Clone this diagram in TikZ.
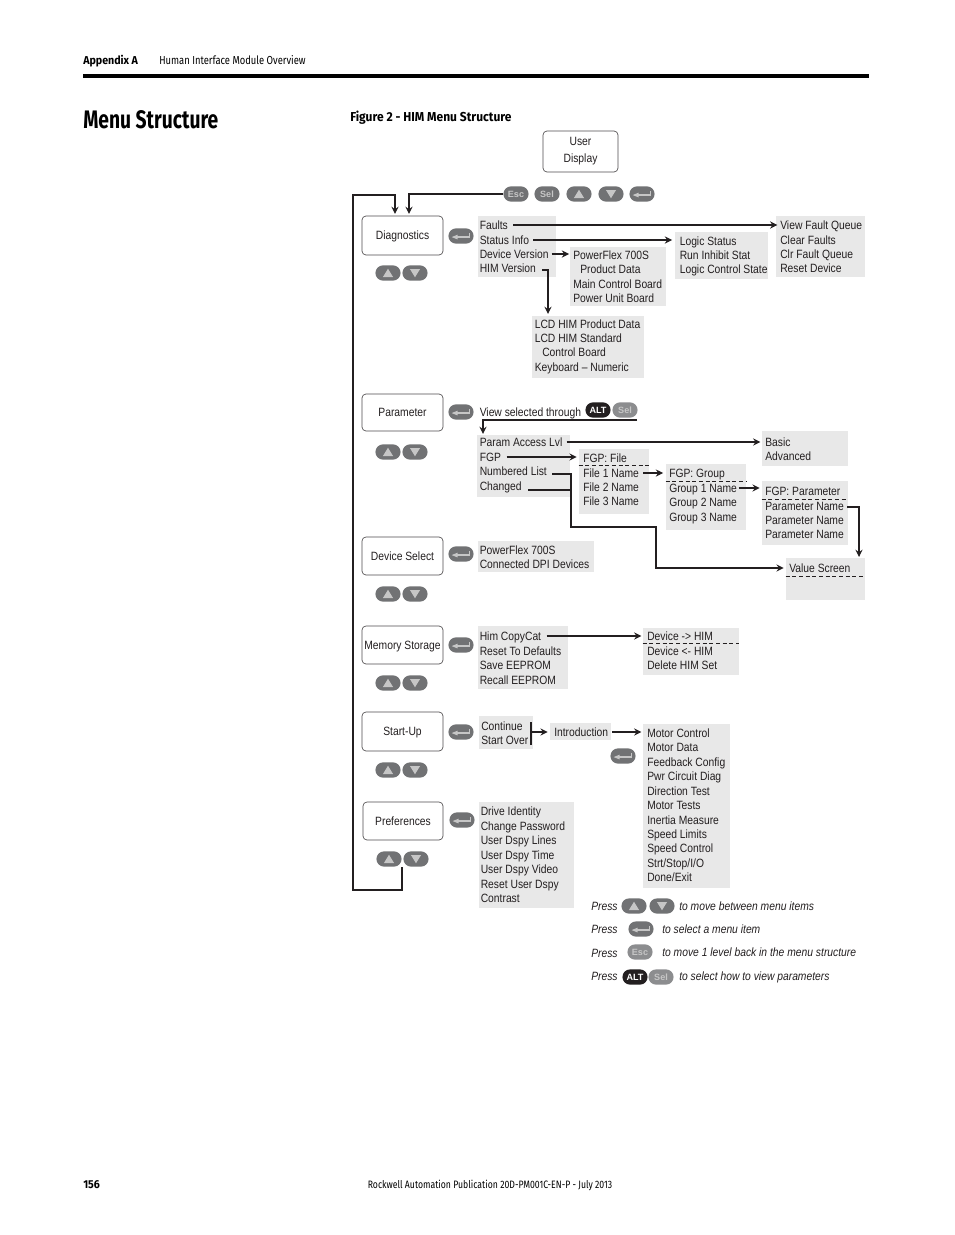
\documentclass[tikz,border=0pt]{standalone}
\usepackage{fontspec}
\setmainfont{Liberation Sans}[FakeStretch=0.86]
\newfontfamily\headf{Fira Sans}[FakeStretch=0.81]
\newfontfamily\headb{Fira Sans}[FakeStretch=0.93]
\newfontfamily\titlef{Fira Sans}[FakeStretch=0.76]
\newfontfamily\keyf{Liberation Sans}
\usetikzlibrary{arrows.meta}
\definecolor{panelgray}{HTML}{E8E8E8}
\definecolor{keygray}{HTML}{717274}
\definecolor{keylight}{HTML}{8C8D8F}
\definecolor{glyph}{HTML}{C6C6C6}
\definecolor{ink}{HTML}{231F20}
\tikzset{
  lab/.style={anchor=west,inner sep=0pt,text height=6.4pt,text depth=0pt,font=\fontsize{9}{11}\selectfont,text=ink},
  ital/.style={lab,font=\fontsize{9}{11}\selectfont\itshape},
  menubox/.style={draw=ink!80,line width=0.5pt,rounded corners=3pt,inner sep=0pt,align=center,font=\fontsize{9}{11}\selectfont,text=ink},
  oneline/.style={menubox,text height=6.4pt,text depth=0pt},
  panel/.style={fill=panelgray,inner sep=0pt,draw=none},
  keypill/.style={rounded corners=5.6pt,inner sep=0pt,minimum width=18.8pt,minimum height=11.4pt,draw=none},
  keytxt/.style={font=\keyf\fontsize{6.8}{7}\selectfont\bfseries},
  conn/.style={draw=ink,line width=0.8pt,-{Stealth[length=5.5pt,width=5.4pt,inset=1.9pt]}},
  heavy/.style={conn,line width=1.2pt},
  loopline/.style={conn,line width=1.5pt},
  plainline/.style={draw=ink,line width=1.2pt},
  dsh/.style={draw=ink,line width=0.6pt,dash pattern=on 3pt off 2pt},
}
\newcommand{\pnl}[5]{%
  \pgfmathsetmacro{\pw}{(#4-#2)*0.75}\pgfmathsetmacro{\ph}{(#5-#3)*0.75}%
  \node[panel,minimum width=\pw pt,minimum height=\ph pt] (#1) at ({(#2+#4)/2},{(#3+#5)/2}) {};}
\newcommand{\mbx}[6]{%
  \pgfmathsetmacro{\pw}{(#4-#2)*0.75}\pgfmathsetmacro{\ph}{(#5-#3)*0.75}%
  \node[oneline,minimum width=\pw pt,minimum height=\ph pt] (#1) at ({(#2+#4)/2},{(#3+#5)/2}) {#6};}
\newcommand{\txt}[4]{\node[lab] (#1) at (#2,#3) {#4};}
\newcommand{\upkey}[3]{\node[keypill,fill=keygray] (#1) at (#2,#3) {};
  \fill[glyph] ([xshift=-3.8pt,yshift=-3pt]#1.center) -- ([xshift=3.8pt,yshift=-3pt]#1.center) -- ([yshift=3.2pt]#1.center) -- cycle;}
\newcommand{\dnkey}[3]{\node[keypill,fill=keygray] (#1) at (#2,#3) {};
  \fill[glyph] ([xshift=-3.8pt,yshift=3pt]#1.center) -- ([xshift=3.8pt,yshift=3pt]#1.center) -- ([yshift=-3.2pt]#1.center) -- cycle;}
\newcommand{\entkey}[3]{\node[keypill,fill=keygray] (#1) at (#2,#3) {};
  \draw[glyph,line width=1pt] ([xshift=6.5pt,yshift=2pt]#1.center) -- ([xshift=6.5pt,yshift=-0.8pt]#1.center) -- ([xshift=-3pt,yshift=-0.8pt]#1.center);
  \fill[glyph] ([xshift=-7pt,yshift=-0.8pt]#1.center) -- ([xshift=-2.5pt,yshift=1pt]#1.center) -- ([xshift=-2.5pt,yshift=-2.6pt]#1.center) -- cycle;}
\newcommand{\lblkey}[6]{\node[keypill,fill=#4,text=#5,keytxt] (#1) at (#2,#3) {#6};}
\begin{document}
\begin{tikzpicture}[x=0.75pt,y=-0.75pt]
\useasboundingbox (0,0) rectangle (954,1235);
\fill[white] (0,0) rectangle (954,1235);
% page furniture
\node[anchor=base west,inner sep=0pt,font=\headb\bfseries\fontsize{8.6}{10}\selectfont] (apx) at (83,64) {Appendix A};
\node[anchor=base west,inner sep=0pt,font=\headf\fontsize{8.7}{10}\selectfont] (apt) at (159,64) {Human Interface Module Overview};
\draw[black,line width=2.6pt] (83,76) -- (869,76);
\node[anchor=base west,inner sep=0pt,font=\titlef\bfseries\fontsize{19}{22}\selectfont] (ttl) at (83,128) {Menu Structure};
\node[anchor=base west,inner sep=0pt,font=\headb\bfseries\fontsize{9.7}{12}\selectfont] (fig) at (350,121) {Figure 2 - HIM Menu Structure};
\node[anchor=base west,inner sep=0pt,font=\headb\bfseries\fontsize{8.6}{10}\selectfont] (pgn) at (83,1188) {156};
\node[anchor=base,inner sep=0pt,font=\headf\fontsize{8.05}{10}\selectfont] (pub) at (490,1188) {Rockwell Automation Publication 20D-PM001C-EN-P - July 2013};
% panels
\pnl{pFaults}{478}{216}{556}{277}
\pnl{pPF}{570}{247}{666}{306}
\pnl{pLogic}{675}{232}{768}{279}
\pnl{pQueue}{776}{216}{865}{277}
\pnl{pLCD}{532}{316}{644}{378}
\pnl{pParam}{477}{435}{570}{497}
\pnl{pFile}{579}{449}{649}{514}
\pnl{pGroup}{666}{464}{746}{530}
\pnl{pFGP}{762}{481}{848}{545}
\pnl{pBasic}{762}{431}{848}{466}
\pnl{pValue}{786}{558}{865}{600}
\pnl{pDev}{478}{541}{594}{572}
\pnl{pHim}{478}{626}{568}{689}
\pnl{pCopy}{643}{628}{739}{675}
\pnl{pCont}{479}{716}{533}{749}
\pnl{pIntro}{550}{723}{611}{740}
\pnl{pMotor}{643}{724}{730}{888}
\pnl{pDrive}{479}{802}{574}{908}
% menu boxes
\node[menubox,minimum width=56.25pt,minimum height=30.75pt] (user) at (580.5,151.5) {User\\[1.8pt]Display};
\mbx{diag}{362}{216}{443}{255}{Diagnostics}
\mbx{param}{362}{394}{443}{431}{Parameter}
\mbx{devsel}{362}{537}{443}{575}{Device Select}
\mbx{mem}{362}{626}{443}{664}{Memory Storage}
\mbx{start}{362}{712}{443}{751}{Start-Up}
\mbx{pref}{363}{802}{443}{840}{Preferences}
% keys
\lblkey{kEsc}{516}{194}{keygray}{glyph}{Esc}
\lblkey{kSel}{547}{194}{keygray}{glyph}{Sel}
\upkey{kUp}{579}{194}
\dnkey{kDn}{611}{194}
\entkey{kEnt}{642}{194}
\entkey{eDiag}{461}{236}
\upkey{uDiag}{388}{273}\dnkey{dDiag}{415}{273}
\entkey{eParam}{461}{412}
\upkey{uParam}{388}{452}\dnkey{dParam}{415}{452}
\lblkey{kAlt}{598}{410}{ink}{white}{ALT}
\lblkey{kSelB}{625}{410}{keylight}{glyph}{Sel}
\entkey{eDev}{461}{554}
\upkey{uDev}{388}{594}\dnkey{dDev}{415}{594}
\entkey{eMem}{461}{645}
\upkey{uMem}{388}{683}\dnkey{dMem}{415}{683}
\entkey{eStart}{461}{732}
\upkey{uStart}{388}{770}\dnkey{dStart}{415}{770}
\entkey{eIntro}{623}{756}
\entkey{ePref}{462}{820}
\upkey{uPref}{389}{859}\dnkey{dPref}{416}{859}
% lists
\txt{tFaults}{479.5}{225}{Faults}
\txt{tStatus}{479.5}{240}{Status Info}
\txt{tDevVer}{479.5}{254}{Device Version}
\txt{tHimVer}{479.5}{268}{HIM Version}
\txt{tPF}{573}{255}{PowerFlex 700S}
\txt{tPD}{580}{269}{Product Data}
\txt{tMC}{573}{284}{Main Control Board}
\txt{tPU}{573}{298}{Power Unit Board}
\txt{tLS}{679.5}{241}{Logic Status}
\txt{tRI}{679.5}{255}{Run Inhibit Stat}
\txt{tLC}{679.5}{269}{Logic Control State}
\txt{tVF}{780}{225}{View Fault Queue}
\txt{tCF}{780}{240}{Clear Faults}
\txt{tCQ}{780}{254}{Clr Fault Queue}
\txt{tRD}{780}{268}{Reset Device}
\txt{tL1}{534.5}{324}{LCD HIM Product Data}
\txt{tL2}{534.5}{338}{LCD HIM Standard}
\txt{tL3}{542}{352}{Control Board}
\txt{tL4}{534.5}{367}{Keyboard -- Numeric}
\txt{tView}{479.5}{412}{View selected through}
\txt{tPA}{479.5}{442}{Param Access Lvl}
\txt{tFGP}{479.5}{457}{FGP}
\txt{tNL}{479.5}{471}{Numbered List}
\txt{tCh}{479.5}{486}{Changed}
\txt{tF0}{583}{458}{FGP: File}
\txt{tF1}{583}{473}{File 1 Name}
\txt{tF2}{583}{487}{File 2 Name}
\txt{tF3}{583}{501}{File 3 Name}
\txt{tG0}{669}{473}{FGP: Group}
\txt{tG1}{669}{488}{Group 1 Name}
\txt{tG2}{669}{502}{Group 2 Name}
\txt{tG3}{669}{517}{Group 3 Name}
\txt{tP0}{765}{491}{FGP: Parameter}
\txt{tP1}{765}{506}{Parameter Name}
\txt{tP2}{765}{520}{Parameter Name}
\txt{tP3}{765}{534}{Parameter Name}
\txt{tB1}{765}{442}{Basic}
\txt{tB2}{765}{456}{Advanced}
\txt{tVS}{789}{568}{Value Screen}
\txt{tD1}{479.5}{550}{PowerFlex 700S}
\txt{tD2}{479.5}{564}{Connected DPI Devices}
\txt{tH1}{479.5}{636}{Him CopyCat}
\txt{tH2}{479.5}{651}{Reset To Defaults}
\txt{tH3}{479.5}{665}{Save EEPROM}
\txt{tH4}{479.5}{680}{Recall EEPROM}
\txt{tC1}{647}{636}{Device -> HIM}
\txt{tC2}{647}{651}{Device <- HIM}
\txt{tC3}{647}{665}{Delete HIM Set}
\txt{tS1}{481}{726}{Continue}
\txt{tS2}{481}{740}{Start Over}
\txt{tIn}{554}{732}{Introduction}
\txt{tM1}{647}{733}{Motor Control}
\txt{tM2}{647}{747}{Motor Data}
\txt{tM3}{647}{762}{Feedback Config}
\txt{tM4}{647}{776}{Pwr Circuit Diag}
\txt{tM5}{647}{791}{Direction Test}
\txt{tM6}{647}{805}{Motor Tests}
\txt{tM7}{647}{820}{Inertia Measure}
\txt{tM8}{647}{834}{Speed Limits}
\txt{tM9}{647}{848}{Speed Control}
\txt{tM10}{647}{863}{Strt/Stop/I/O}
\txt{tM11}{647}{877}{Done/Exit}
\txt{tR1}{480.5}{811}{Drive Identity}
\txt{tR2}{480.5}{826}{Change Password}
\txt{tR3}{480.5}{840}{User Dspy Lines}
\txt{tR4}{480.5}{855}{User Dspy Time}
\txt{tR5}{480.5}{869}{User Dspy Video}
\txt{tR6}{480.5}{884}{Reset User Dspy}
\txt{tR7}{480.5}{898}{Contrast}
% legend
\node[ital] (lg1) at (591,906) {Press};
\upkey{lgU}{634}{906}\dnkey{lgD}{662}{906}
\node[ital] (lt1) at (679,906) {to move between menu items};
\node[ital] (lg2) at (591,929) {Press};
\entkey{lgE}{641}{929}
\node[ital] (lt2) at (662,929) {to select a menu item};
\node[ital] (lg3) at (591,953) {Press};
\lblkey{lgEsc}{640}{952}{keylight}{glyph}{Esc}
\node[ital] (lt3) at (662,952) {to move 1 level back in the menu structure};
\node[ital] (lg4) at (591,976) {Press};
\lblkey{lgAlt}{635}{977}{ink}{white}{ALT}
\lblkey{lgSel}{661}{977}{keylight}{glyph}{Sel}
\node[ital] (lt4) at (679,976) {to select how to view parameters};
% free ends of connectors
\coordinate (loopA) at (402,867);
\coordinate (loopB) at (402,890);
\coordinate (loopC) at (353,890);
\coordinate (loopD) at (353,195);
\coordinate (inA) at (395,214);
\coordinate (inB) at (409,214);
\coordinate (escB) at (409,194);
\coordinate (hvA) at (548,270);
\coordinate (hvB) at (548,314);
\coordinate (hvS) at (542,270);
\coordinate (vsA) at (637,420);
\coordinate (vsB) at (483,420);
\coordinate (vsC) at (483,434);
\coordinate (nlS) at (552,474);
\coordinate (nlA) at (571,474);
\coordinate (nlB) at (571,527);
\coordinate (nlC) at (656,527);
\coordinate (nlD) at (656,568);
\coordinate (chS) at (528,490);
\coordinate (chE) at (571,490);
\coordinate (pnS) at (847,507);
\coordinate (pnA) at (859,507);
\coordinate (pnB) at (859,557);
\coordinate (brA) at (531,722);
\coordinate (brB) at (531,745);
\coordinate (brC) at (531,732);
% connectors
\draw[loopline] (loopA) -- (loopB) -- (loopC) -- (loopD) -- (loopD -| inA) -- (inA);
\draw[heavy] (kEsc.west) -- (kEsc.west -| escB) -- (inB);
\draw[conn] ([xshift=4pt]tFaults.east) -- ([xshift=-2pt]tVF.west |- tFaults.east);
\draw[heavy] ([xshift=3pt]tStatus.east) -- ([xshift=-2pt]pLogic.west |- tStatus.east);
\draw[heavy] ([xshift=2pt]tDevVer.east) -- ([xshift=-0.5pt]pPF.west |- tDevVer.east);
\draw[heavy] (hvS) -- (hvA) -- (hvB);
\draw[heavy] (vsA) -- (vsB) -- (vsC);
\draw[heavy] ([xshift=3pt]tPA.east) -- ([xshift=-1pt]pBasic.west |- tPA.east);
\draw[heavy] ([xshift=4pt]tFGP.east) -- ([xshift=-1.5pt]pFile.west |- tFGP.east);
\draw[conn] ([xshift=3pt]tF1.east) -- ([xshift=-2pt]pGroup.west |- tF1.east);
\draw[heavy] ([xshift=1pt]tG1.east) -- ([xshift=-1.5pt]pFGP.west |- tG1.east);
\draw[heavy] (pnS) -- (pnA) -- (pnB);
\draw[heavy] (nlS) -- (nlA) -- (nlB) -- (nlC) -- (nlD) -- ([xshift=-1.5pt]pValue.west |- nlD);
\draw[plainline] (chS) -- (chE);
\draw[heavy] ([xshift=4pt]tH1.east) -- ([xshift=-1pt]pCopy.west |- tH1.east);
\draw[plainline] (brA) -- (brB);
\draw[conn] (brC) -- ([xshift=-1.5pt]pIntro.west |- brC);
\draw[conn] ([xshift=0.5pt]pIntro.east |- tIn.east) -- ([xshift=-1pt]pMotor.west |- tIn.east);
% dashes
\draw[dsh] (pFile.west |- 0,465) -- (pFile.east |- 0,465);
\draw[dsh] (pGroup.west |- 0,481) -- (pGroup.east |- 0,481);
\draw[dsh] (pFGP.west |- 0,499) -- (pFGP.east |- 0,499);
\draw[dsh] (pValue.west |- 0,576) -- (pValue.east |- 0,576);
\draw[dsh] (pCopy.west |- 0,643) -- (pCopy.east |- 0,643);
\end{tikzpicture}
\end{document}
